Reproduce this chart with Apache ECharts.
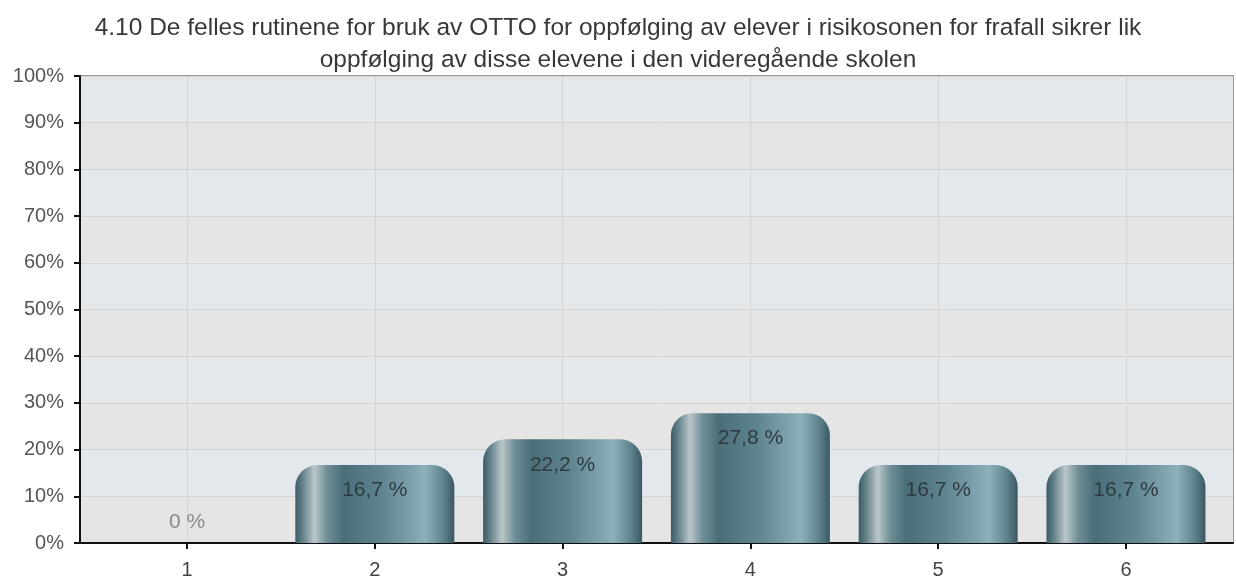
<!DOCTYPE html>
<html>
<head>
<meta charset="utf-8">
<script src="https://cdn.jsdelivr.net/npm/echarts@6/dist/echarts.min.js"></script>
<style>
html,body{margin:0;padding:0;background:#fff;}
#chart{width:1236px;height:581px;}
</style>
</head>
<body>
<div id="chart"></div>
<script>
const titleText = "4.10 De felles rutinene for bruk av OTTO for oppfølging av elever i risikosonen for frafall sikrer lik\noppfølging av disse elevene i den videregående skolen";
const categories = [1, 2, 3, 4, 5, 6];
const values = [0, 16.7, 22.2, 27.8, 16.7, 16.7];
const yTicks = [0, 10, 20, 30, 40, 50, 60, 70, 80, 90, 100];

const barGradient = new echarts.graphic.LinearGradient(0, 0, 1, 0, [
  {offset: 0, color: '#3e5b64'},
  {offset: 0.04, color: '#5d7c85'},
  {offset: 0.12, color: '#b9c7cb'},
  {offset: 0.2, color: '#6f8e97'},
  {offset: 0.3, color: '#4b6e79'},
  {offset: 0.55, color: '#5f8591'},
  {offset: 0.82, color: '#8db0ba'},
  {offset: 0.93, color: '#5f838e'},
  {offset: 1, color: '#3a5861'}
]);

const barData = categories.map((c, i) => {
  const v = values[i];
  const item = {value: [c, v]};
  if (v === 0) {
    item.label = {position: 'top', distance: 10, color: '#8a8a8a'};
  }
  return item;
});

const FONT = 'Liberation Sans, Arial, sans-serif';
const chart = echarts.init(document.getElementById('chart'), null, {renderer: 'canvas'});
chart.setOption({
  animation: false,
  backgroundColor: '#ffffff',
  title: {
    text: titleText,
    left: 'center',
    top: 7,
    textStyle: {
      fontFamily: FONT,
      fontSize: 24.5,
      fontWeight: 'normal',
      color: '#383838',
      lineHeight: 32
    }
  },
  grid: {
    left: 80, right: 3, top: 76, bottom: 38,
    show: true,
    borderColor: '#9a9a9a',
    borderWidth: 2,
    backgroundColor: 'transparent'
  },
  xAxis: {
    type: 'value',
    min: 0.43,
    max: 6.57,
    axisLine: {show: true, onZero: false, lineStyle: {color: '#111', width: 2}},
    axisTick: {show: true, customValues: categories, length: 6, lineStyle: {color: '#111', width: 2}},
    axisLabel: {
      customValues: categories,
      color: '#444',
      fontSize: 20,
      fontFamily: FONT,
      margin: 17,
      formatter: v => String(v)
    },
    splitLine: {show: true, lineStyle: {color: '#d4d4d4', width: 1}}
  },
  yAxis: {
    type: 'value',
    min: 0,
    max: 100,
    interval: 10,
    axisLine: {show: true, lineStyle: {color: '#111', width: 2}},
    axisTick: {show: true, length: 6, lineStyle: {color: '#111', width: 2}},
    axisLabel: {
      color: '#555',
      fontSize: 20,
      fontFamily: FONT,
      margin: 16,
      formatter: v => v + '%'
    },
    splitLine: {show: true, lineStyle: {color: '#d4d4d4', width: 1}},
    splitArea: {show: true, areaStyle: {color: ['#e5e5e5', '#e3e8ed']}}
  },
  series: [{
    type: 'bar',
    data: barData,
    barWidth: 159,
    itemStyle: {
      color: barGradient,
      borderRadius: [22, 22, 0, 0]
    },
    label: {
      show: true,
      position: 'insideTop',
      distance: 15,
      color: '#2e3a3f',
      fontSize: 21,
      fontFamily: FONT,
      formatter: p => String(p.value[1]).replace('.', ',') + ' %'
    }
  }]
});
</script>
</body>
</html>
